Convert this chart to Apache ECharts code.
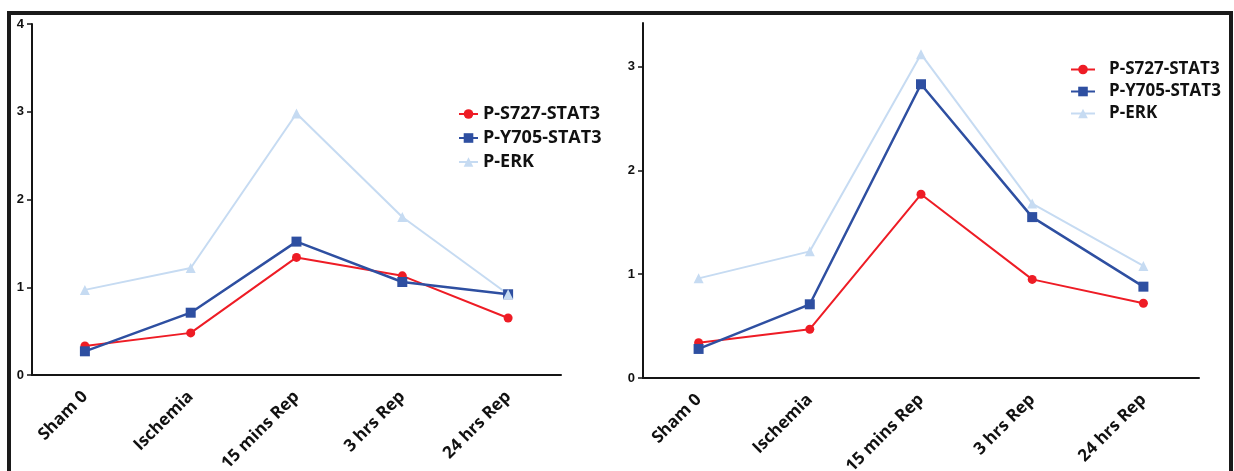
<!DOCTYPE html>
<html>
<head>
<meta charset="utf-8">
<title>STAT3 / ERK</title>
<script src="https://cdn.jsdelivr.net/npm/echarts/dist/echarts.min.js"></script>
<style>
    html, body { margin: 0; padding: 0; background: #fff; }
    .echarts_1 { width: 1234px; height: 471px; }
</style>
</head>
<body>
<div class="echarts_1"></div>
<script>
// data
var categories = ['Sham 0', 'Ischemia', '15 mins Rep', '3 hrs Rep', '24 hrs Rep'];
var seriesNames = ['P-S727-STAT3', 'P-Y705-STAT3', 'P-ERK'];

// left panel
var leftS727 = [0.33, 0.48, 1.34, 1.13, 0.65];
var leftY705 = [0.27, 0.71, 1.52, 1.06, 0.92];
var leftERK = [0.97, 1.22, 2.98, 1.80, 0.92];
var leftYTicks = [0, 1, 2, 3, 4];

// right panel
var rightS727 = [0.34, 0.47, 1.77, 0.95, 0.72];
var rightY705 = [0.28, 0.71, 2.83, 1.55, 0.88];
var rightERK = [0.96, 1.22, 3.12, 1.68, 1.08];
var rightYTicks = [0, 1, 2, 3];

(function () {
    var chart = echarts.init(document.querySelector('.echarts_1'));

    var ink = '#151515';
    var colors = ['#ee1c25', '#2e4fa1', '#c6dbf2'];
    var symbols = ['circle', 'rect', 'triangle'];
    var sizes = [9, 10, 10];
    var widths = [2, 2.5, 2];

    // 1. axes, one pair per panel
    function xAxisFor(idx) {
        return {
            type: 'category',
            gridIndex: idx,
            data: categories,
            boundaryGap: true,
            axisLine: { lineStyle: { color: ink, width: 2 } },
            axisTick: { alignWithLabel: true, length: 5, lineStyle: { color: ink, width: 1.5 } },
            axisLabel: {
                interval: 0,
                rotate: 45,
                margin: 19,
                color: '#111',
                fontFamily: 'Open Sans',
                fontWeight: 'bold',
                fontSize: 17
            }
        };
    }

    function yAxisFor(idx, max, ticks) {
        return {
            type: 'value',
            gridIndex: idx,
            min: 0,
            max: max,
            interval: 1,
            splitLine: { show: false },
            axisLine: { show: true, lineStyle: { color: ink, width: 2 } },
            axisTick: { show: true, length: 5, customValues: ticks, lineStyle: { color: ink, width: 1.5 } },
            axisLabel: {
                customValues: ticks,
                margin: 8,
                color: '#111',
                fontFamily: 'Liberation Sans',
                fontWeight: 'bold',
                fontSize: 13
            }
        };
    }

    // 2. series, three per panel
    function seriesFor(idx, lists) {
        return lists.map(function (vals, i) {
            return {
                name: seriesNames[i],
                type: 'line',
                xAxisIndex: idx,
                yAxisIndex: idx,
                data: vals,
                symbol: symbols[i],
                symbolSize: sizes[i],
                itemStyle: { color: colors[i] },
                lineStyle: { color: colors[i], width: widths[i] }
            };
        });
    }

    function legendFor(left, top, itemWidth, gap, pad, size) {
        return {
            orient: 'vertical',
            left: left,
            top: top,
            itemWidth: itemWidth,
            itemHeight: 12,
            itemGap: gap,
            data: seriesNames,
            textStyle: {
                color: '#111',
                fontFamily: 'Open Sans',
                fontWeight: 'bold',
                fontSize: size,
                padding: [0, 0, 0, pad]
            }
        };
    }

    var option = {
        animation: false,
        backgroundColor: '#fff',
        grid: [
            { left: 32, top: 24, width: 529, height: 351, outerBoundsMode: 'none' },
            { left: 643, top: 23, width: 556, height: 355, outerBoundsMode: 'none' }
        ],
        xAxis: [xAxisFor(0), xAxisFor(1)],
        yAxis: [yAxisFor(0, 4, leftYTicks), yAxisFor(1, 3.42, rightYTicks)],
        legend: [
            legendFor(453, 100, 19, 6, 0, 18),
            legendFor(1065, 56, 24, 5, 9, 17)
        ],
        series: seriesFor(0, [leftS727, leftY705, leftERK])
            .concat(seriesFor(1, [rightS727, rightY705, rightERK])),
        // dark frame around the figure
        graphic: [{
            type: 'polyline',
            silent: true,
            shape: { points: [[9, 471], [9, 13], [1231, 13], [1231, 471]] },
            style: { stroke: '#1a1a1a', lineWidth: 4, fill: null }
        }]
    };

    chart.setOption(option);
})();
</script>
</body>
</html>
